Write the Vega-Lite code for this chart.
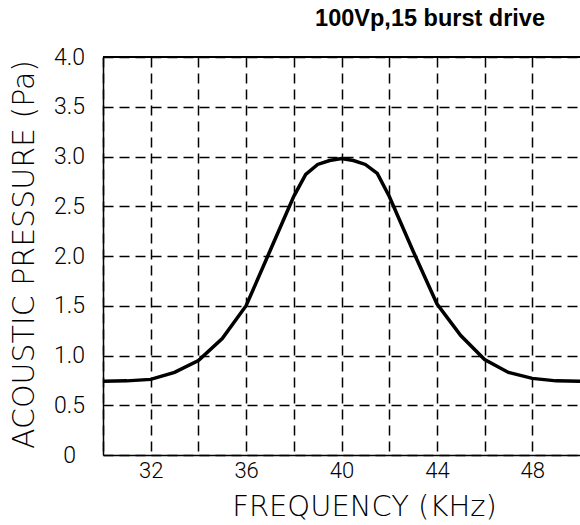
{
  "$schema": "https://vega.github.io/schema/vega-lite/v6.json",
  "width": 477,
  "height": 398,
  "autosize": "none",
  "padding": {"left": 103, "top": 57, "right": 0, "bottom": 70},
  "background": "white",
  "config": {"view": {"stroke": null}},
  "title": {
    "text": "100Vp,15 burst drive",
    "font": "Liberation Sans",
    "fontWeight": "bold",
    "fontSize": 23.5,
    "color": "black",
    "anchor": "end",
    "frame": "group",
    "baseline": "alphabetic",
    "offset": -3,
    "dx": -35
  },
  "data": {
    "values": [
      {"f": 30, "p": 0.74},
      {"f": 31, "p": 0.745},
      {"f": 32, "p": 0.76},
      {"f": 33, "p": 0.83},
      {"f": 34, "p": 0.95},
      {"f": 35, "p": 1.17},
      {"f": 36, "p": 1.5},
      {"f": 37, "p": 2.05},
      {"f": 38, "p": 2.6},
      {"f": 38.5, "p": 2.82},
      {"f": 39, "p": 2.92},
      {"f": 39.5, "p": 2.96},
      {"f": 40, "p": 2.98},
      {"f": 40.5, "p": 2.96},
      {"f": 41, "p": 2.92},
      {"f": 41.5, "p": 2.83},
      {"f": 42, "p": 2.6},
      {"f": 43, "p": 2.05},
      {"f": 44, "p": 1.52},
      {"f": 45, "p": 1.2},
      {"f": 46, "p": 0.96},
      {"f": 47, "p": 0.83},
      {"f": 48, "p": 0.77},
      {"f": 49, "p": 0.745},
      {"f": 50, "p": 0.74}
    ]
  },
  "layer": [
    {
      "mark": {"type": "rule", "color": "black", "strokeWidth": 1.5},
      "encoding": {"y": {"datum": 4, "type": "quantitative", "scale": {"domain": [0, 4]}}}
    },
    {
      "mark": {"type": "line", "color": "black", "strokeWidth": 3.5, "interpolate": "linear"},
      "encoding": {
        "x": {
          "field": "f",
          "type": "quantitative",
          "scale": {"domain": [30, 50], "nice": false, "zero": false},
          "axis": {
            "values": [30, 32, 34, 36, 38, 40, 42, 44, 46, 48],
            "labelExpr": "datum.value % 4 == 0 ? datum.label : ''",
            "title": "FREQUENCY (KHz)",
            "titleFont": "DejaVu Sans",
            "titleFontWeight": 200,
            "titleFontSize": 29,
            "titleColor": "black",
            "titleX": 261,
            "titleY": 60,
            "titleAlign": "center",
            "titleBaseline": "alphabetic",
            "labelFont": "Roboto",
            "labelFontWeight": 300,
            "labelFontSize": 22,
            "labelColor": "black",
            "labelPadding": 5,
            "labelBaseline": "top",
            "ticks": false,
            "domain": true,
            "domainColor": "black",
            "domainWidth": 1.5,
            "grid": true,
            "gridColor": "black",
            "gridOpacity": 1,
            "gridWidth": 1.5,
            "gridDash": [10, 6]
          }
        },
        "y": {
          "field": "p",
          "type": "quantitative",
          "scale": {"domain": [0, 4], "nice": false},
          "axis": {
            "values": [0, 0.5, 1, 1.5, 2, 2.5, 3, 3.5, 4],
            "labelExpr": "datum.value == 0 ? '0' : format(datum.value, '.1f')",
            "title": "ACOUSTIC PRESSURE (Pa)",
            "titleFont": "DejaVu Sans",
            "titleFontWeight": 200,
            "titleFontSize": 30,
            "titleColor": "black",
            "titleAngle": 270,
            "titleX": -70,
            "titleY": 197,
            "titleAlign": "center",
            "titleBaseline": "alphabetic",
            "labelFont": "Roboto",
            "labelFontWeight": 300,
            "labelFontSize": 23,
            "labelColor": "black",
            "labelAlign": "center",
            "labelBaseline": "middle",
            "labelPadding": 34,
            "ticks": false,
            "domain": true,
            "domainColor": "black",
            "domainWidth": 1.5,
            "grid": true,
            "gridColor": "black",
            "gridOpacity": 1,
            "gridWidth": 1.5,
            "gridDash": [10, 6]
          }
        }
      }
    }
  ]
}
